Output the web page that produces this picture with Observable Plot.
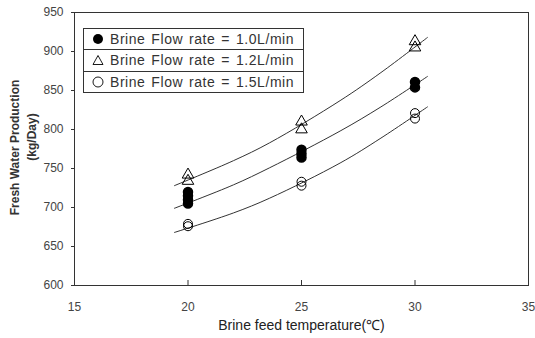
<!DOCTYPE html>
<html>
<head>
<meta charset="utf-8">
<script src="https://cdn.jsdelivr.net/npm/d3@7"></script>
<script src="https://cdn.jsdelivr.net/npm/@observablehq/plot@0.6"></script>
<style>
  body { margin: 0; background: #fff; }
  #wrap { position: relative; width: 535px; height: 338px; }
  #legend { position: absolute; left: 83px; top: 28px; width: 219px; border: 1px solid #333; background: #fff;
    font-family: "Liberation Sans", Arial, sans-serif; font-size: 14px; color: #333; letter-spacing: 0.55px; word-spacing: 1.5px; }
  #legend .row { height: 20.3px; display: flex; align-items: center; border-top: 1px solid #333; }
  #legend .row:first-child { border-top: none; }
  #legend svg { width: 12px; height: 12px; margin-left: 8px; margin-right: 6px; }
</style>
</head>
<body>
<div id="wrap"></div>
<script>
// Categories / ticks
const xTicks = [15, 20, 25, 30, 35];
const yTicks = [600, 650, 700, 750, 800, 850, 900, 950];
const seriesNames = ["Brine Flow rate = 1.0L/min", "Brine Flow rate = 1.2L/min", "Brine Flow rate = 1.5L/min"];

// Measured points (temperature, production)
const ptTemp10 = [20, 20, 20, 20, 25, 25, 25, 30, 30];
const ptVal10  = [720, 715, 710, 705, 774, 769, 764, 861, 854];
const ptTemp12 = [20, 20, 25, 25, 30, 30];
const ptVal12  = [742, 734, 810, 800, 913, 905];
const ptTemp15 = [20, 20, 25, 25, 30, 30];
const ptVal15  = [679, 676, 733, 728, 821, 814];

// Trend curves
const fitTemp = [19.4, 22, 23.6, 26.7, 28.5, 30.55];
const fit10 = [699, 729, 751, 798, 829, 868];
const fit12 = [728, 760, 783, 837, 873, 918];
const fit15 = [668, 693, 712, 757, 789, 829];

const pts = (t, v) => t.map((x, i) => ({x, y: v[i]}));
const P10 = pts(ptTemp10, ptVal10), P12 = pts(ptTemp12, ptVal12), P15 = pts(ptTemp15, ptVal15);
const F10 = pts(fitTemp, fit10), F12 = pts(fitTemp, fit12), F15 = pts(fitTemp, fit15);

const ink = "#333";
const chart = Plot.plot({
  width: 535, height: 338,
  marginLeft: 74, marginRight: 7, marginTop: 12, marginBottom: 53,
  style: { fontFamily: "'Liberation Sans', Arial, sans-serif", fontSize: "12px", color: "#444", background: "#fff" },
  x: { domain: [15, 35] },
  y: { domain: [600, 950] },
  marks: [
    Plot.frame({ stroke: ink }),
    Plot.axisY({ ticks: yTicks, tickSize: 3, tickPadding: 8, label: null, stroke: ink, fill: "#444", fontSize: 12 }),
    Plot.axisX({ ticks: xTicks, tickSize: -5, text: null, label: null, stroke: ink }),
    Plot.axisX({ ticks: xTicks, tickSize: 0, tickPadding: 17, label: null, fill: "#444", fontSize: 12 }),
    Plot.line(F12, { x: "x", y: "y", curve: "catmull-rom", stroke: ink, strokeWidth: 1 }),
    Plot.line(F10, { x: "x", y: "y", curve: "catmull-rom", stroke: ink, strokeWidth: 1 }),
    Plot.line(F15, { x: "x", y: "y", curve: "catmull-rom", stroke: ink, strokeWidth: 1 }),
    Plot.dot(P10, { x: "x", y: "y", r: 4.5, fill: "#000", stroke: "#000" }),
    Plot.dot(P12, { x: "x", y: "y", symbol: "triangle", r: 4.3, fill: "none", stroke: "#000", strokeWidth: 1 }),
    Plot.dot(P15, { x: "x", y: "y", r: 4.5, fill: "none", stroke: "#000", strokeWidth: 1 }),
    Plot.text(["Fresh Water Production"], { frameAnchor: "left", textAnchor: "middle", dx: -59, dy: -1.5, rotate: -90, fontWeight: "bold", fontSize: 12, fill: ink, letterSpacing: "0.2px" }),
    Plot.text(["(kg/Day)"], { frameAnchor: "left", textAnchor: "middle", dx: -42, dy: -12, rotate: -90, fontWeight: "bold", fontSize: 12, fill: ink }),
    Plot.text(["Brine feed temperature(℃)"], { frameAnchor: "bottom", dy: 44, fontSize: 14, fill: "#222" })
  ]
});
const wrap = document.getElementById("wrap");
wrap.appendChild(chart);

const legend = document.createElement("div");
legend.id = "legend";
const syms = [
  '<svg viewBox="-6 -6 12 12"><circle r="5" fill="#000"/></svg>',
  '<svg viewBox="-6 -6 12 12"><path d="M0,-4.5L5,4.5H-5Z" fill="none" stroke="#000" stroke-width="0.9"/></svg>',
  '<svg viewBox="-6 -6 12 12"><circle r="5" fill="none" stroke="#000" stroke-width="0.9"/></svg>'
];
seriesNames.forEach((name, i) => {
  const row = document.createElement("div");
  row.className = "row";
  row.innerHTML = syms[i] + '<span>' + name + '</span>';
  legend.appendChild(row);
});
wrap.appendChild(legend);
</script>
</body>
</html>
